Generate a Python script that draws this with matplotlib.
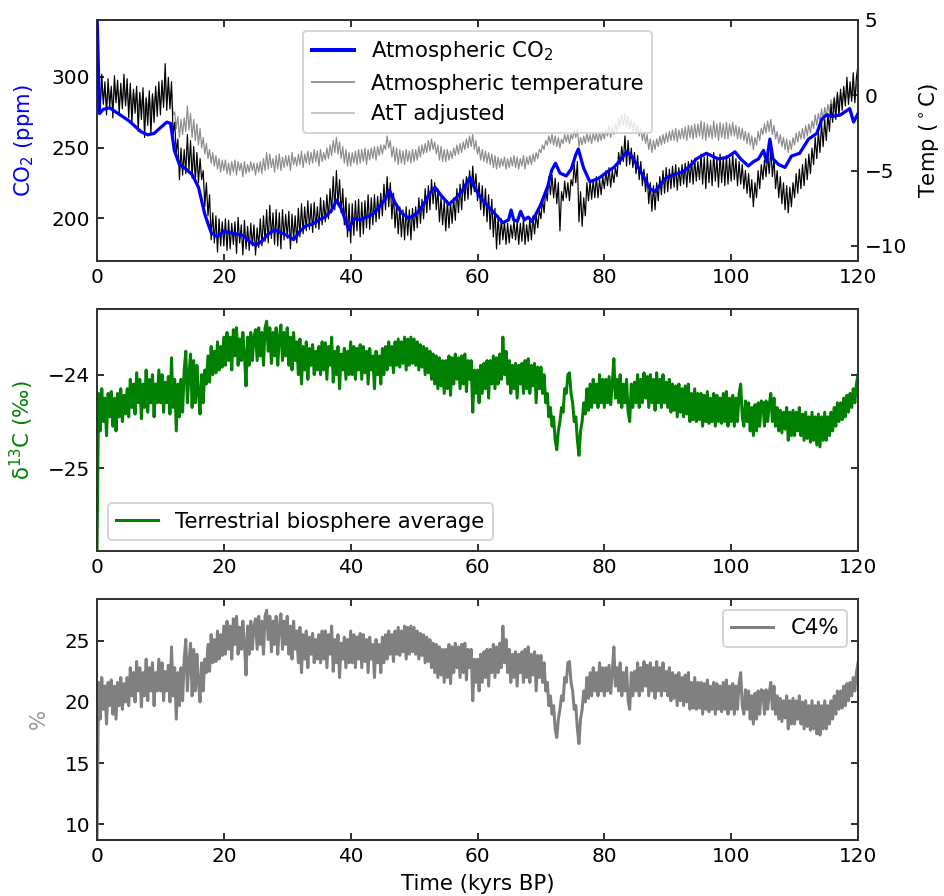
import numpy as np
import matplotlib
matplotlib.use("Agg")
import matplotlib.pyplot as plt
from matplotlib.lines import Line2D

plt.rcParams['font.family'] = ['DejaVu Sans']
plt.rcParams['font.size'] = 10

# ---------------- data ----------------
# Atmospheric CO2 (ppm), irregular sample times (kyrs BP)
co2_time = [0, 0.4, 1, 2, 3, 4, 5, 6, 7, 8, 9, 10, 11, 11.6, 12.2, 13, 14, 15, 16, 17,
            18, 19, 20, 21, 22, 23, 24, 25, 26, 27, 28, 29, 30, 31, 32, 33, 34, 35, 36, 37,
            37.8, 38.6, 39.7, 40.5, 41.5, 42.5, 43.5, 44.5, 45.5, 46.1, 47, 48, 49.2, 50.5,
            51.5, 52.5, 53.3, 54.3, 55.5, 56.5, 57.5, 58.8, 59.5, 60.6, 62, 63, 64, 64.9,
            65.3, 65.7, 66.3, 66.8, 67.4, 68, 68.6, 69.9, 71.1, 71.7, 72.3, 73, 74, 74.8,
            75.5, 75.9, 76.7, 77.7, 79, 80.5, 81.5, 82.5, 83.5, 84.3, 85.1, 86, 87.2, 88,
            89, 89.8, 91, 92.4, 93.5, 94.5, 96.1, 97, 98, 99.3, 100.6, 101.5, 102.7, 103.5,
            104.3, 105.1, 105.6, 106.1, 106.6, 107.5, 108.5, 109.5, 110.8, 111.5, 112.2,
            113.5, 114.3, 115, 116, 117.2, 118.7, 119.3, 120]
co2_ppm = [345, 274, 277, 278, 275, 272, 269, 265, 261, 259, 260, 264, 268, 267, 248, 238,
           235, 231, 222, 203, 190, 187, 191, 190, 189, 188, 184, 181, 184, 189, 192, 190,
           188, 185, 191, 195, 196, 199, 201, 206, 213, 206, 192, 200, 199, 201, 203, 208,
           214, 220, 211, 204, 200, 204, 210, 218, 222, 216, 210, 214, 219, 229, 222, 214,
           207, 202, 197, 199, 206, 199, 198, 205, 199, 201, 198, 209, 223, 234, 239, 232,
           230, 235, 245, 249, 236, 226, 228, 233, 236, 241, 247, 244, 238, 231, 221, 219,
           225, 229, 231, 233, 237, 242, 246, 244, 242, 243, 247, 242, 237, 240, 242, 248,
           240, 256, 242, 238, 236, 244, 246, 251, 256, 260, 270, 273, 272, 273, 277.5,
           268, 274]

# Atmospheric temperature (deg C), every 0.25 kyr from 0 to 120
temp = [
    -1.8, 1.2, -1.0, 1.4, -0.6, 0.9, -1.3, 1.1, -0.8, 0.6, -1.5, 1.3, -0.5, 1.0, -1.2, 0.8, -0.9, 1.4, -0.7, 1.1,
    -1.5, 0.8, -1.9, 0.4, -1.2, 0.6, -2.4, 0.2, -1.6, 0.5, -2.8, -0.2, -2.0, 0.3, -2.6, 0.1, -1.8, 0.6, -1.4, 0.9,
    -1.3, 1.0, -0.8, 2.1, -1.0, 1.2, -0.9, 0.9, -2.6, -1.8, -3.8, -2.9, -5.6, -3.5, -5.3, -3.6, -5.2, -2.6, -5.0, -3.0,
    -5.5, -3.4, -5.7, -3.8, -5.8, -4.2, -5.6, -5.0, -7.4, -5.8, -8.0, -6.6, -9.6, -7.8, -9.8, -8.0, -10.4, -8.2, -10.0, -8.4,
    -10.0, -8.2, -10.3, -8.3, -10.2, -8.5, -9.9, -8.4, -10.5, -8.1, -9.8, -8.6, -10.6, -8.3, -10.2, -8.7, -10.3, -8.5, -10.0, -8.6,
    -10.6, -8.8, -10.1, -8.2, -10.0, -8.0, -9.7, -7.6, -9.8, -7.3, -9.5, -7.8, -9.9, -7.6, -10.0, -7.8, -10.2, -7.6, -9.6, -7.9,
    -9.5, -7.7, -10.2, -7.9, -9.6, -8.0, -9.8, -7.5, -9.4, -7.2, -9.2, -7.4, -9.0, -7.0, -8.9, -7.2, -9.1, -7.1, -8.8, -7.4,
    -8.9, -6.8, -8.6, -7.0, -8.4, -6.6, -8.2, -6.2, -7.8, -5.4, -7.6, -5.0, -7.3, -5.6, -7.8, -6.2, -8.6, -6.8, -9.4, -7.2,
    -9.8, -7.2, -9.3, -7.0, -9.0, -6.9, -9.4, -7.1, -9.2, -7.0, -8.8, -6.6, -8.9, -6.8, -8.6, -6.6, -8.4, -6.7, -8.2, -6.5,
    -8.0, -5.9, -7.6, -5.4, -7.4, -5.8, -8.2, -6.5, -8.8, -7.2, -9.2, -7.4, -9.4, -7.6, -9.6, -7.4, -9.3, -7.6, -9.6, -7.5,
    -9.0, -7.4, -8.8, -6.8, -8.5, -6.9, -8.2, -6.2, -7.8, -6.0, -7.6, -5.6, -7.2, -5.8, -7.6, -6.2, -8.4, -6.8, -8.6, -7.0,
    -9.0, -7.0, -8.8, -7.1, -8.5, -6.8, -8.3, -6.2, -7.8, -5.9, -7.6, -5.6, -7.0, -5.4, -6.9, -5.0, -6.6, -4.7, -6.4, -5.2,
    -7.0, -5.8, -7.6, -6.0, -8.0, -6.2, -8.4, -6.6, -8.9, -6.9, -9.4, -7.5, -10.2, -8.0, -9.9, -8.2, -9.6, -8.4, -9.9, -8.5,
    -9.8, -8.6, -9.5, -8.3, -9.6, -8.4, -9.9, -8.5, -9.7, -8.2, -9.9, -8.6, -9.7, -8.2, -9.6, -8.0, -9.2, -7.9, -8.8, -7.6,
    -8.2, -6.9, -7.8, -6.3, -7.0, -5.4, -6.6, -5.3, -6.8, -5.5, -7.2, -5.8, -9.0, -6.4, -7.0, -5.7, -6.8, -5.8, -7.0, -5.6,
    -6.0, -4.6, -5.8, -4.4, -8.4, -6.4, -8.7, -6.8, -8.0, -5.8, -7.0, -5.7, -6.9, -5.6, -6.8, -5.4, -6.8, -5.6, -6.6, -5.4,
    -6.2, -5.0, -6.0, -4.8, -6.1, -5.0, -5.8, -4.8, -5.4, -3.8, -4.6, -3.4, -4.4, -2.7, -4.7, -3.0, -4.6, -3.5, -4.8, -3.8,
    -5.2, -4.0, -5.6, -4.4, -6.0, -4.9, -6.4, -5.2, -7.2, -5.8, -7.7, -6.0, -7.6, -5.8, -7.0, -5.4, -6.6, -5.0, -6.5, -4.8,
    -6.4, -4.9, -6.2, -4.7, -6.1, -4.6, -6.3, -4.8, -6.0, -4.6, -5.9, -4.5, -6.1, -4.4, -5.8, -4.3, -5.9, -4.2, -5.7, -4.4,
    -5.6, -3.9, -5.9, -4.1, -6.2, -4.0, -5.8, -4.3, -6.0, -3.8, -5.7, -4.2, -6.1, -3.9, -5.8, -4.1, -6.0, -4.0, -5.9, -4.2,
    -5.7, -3.9, -5.6, -4.2, -6.0, -4.4, -5.9, -4.6, -6.2, -5.0, -6.5, -5.2, -6.8, -5.6, -7.4, -5.8, -6.8, -5.0, -6.2, -4.6,
    -5.6, -4.3, -5.4, -3.9, -5.2, -3.5, -5.4, -4.2, -6.2, -5.0, -6.8, -5.4, -7.2, -5.8, -7.6, -6.0, -7.8, -6.1, -7.4, -5.8,
    -6.8, -5.2, -6.5, -4.9, -6.2, -4.6, -6.0, -4.2, -5.6, -3.9, -5.2, -3.5, -4.6, -2.8, -4.2, -2.4, -3.8, -1.8, -3.4, -1.6,
    -3.0, -1.2, -2.4, -0.6, -1.8, -0.2, -1.6, 0.2, -1.4, 0.4, -1.0, 0.6, -0.7, 1.2, -0.6, 0.9, -0.4, 1.5, -0.5, 1.2,
    2.0]

# AtT adjusted (deg C), every 0.25 kyr from 0 to 120
temp_adj = [
    -0.9, 0.6, -0.5, 0.7, -0.3, 0.5, -0.7, 0.6, -0.4, 0.3, -0.8, 0.6, -0.3, 0.5, -0.6, 0.4, -0.5, 0.7, -0.4, 0.5,
    -0.8, 0.4, -1.0, 0.2, -0.6, 0.3, -1.2, 0.1, -0.8, 0.2, -1.4, -0.1, -1.0, 0.1, -1.3, 0.0, -0.9, 0.3, -0.7, 0.4,
    -0.7, 0.5, -0.4, 1.0, -0.5, 0.6, -0.5, 0.4, -1.3, -1.1, -2.2, -1.4, -2.8, -1.6, -2.6, -1.5, -2.4, -0.7, -2.3, -1.2,
    -2.8, -1.6, -3.0, -1.9, -3.3, -2.2, -3.5, -2.8, -3.9, -3.2, -4.2, -3.6, -4.5, -3.8, -4.7, -4.0, -4.9, -4.2, -5.1, -4.3,
    -5.0, -4.3, -5.2, -4.5, -5.3, -4.4, -5.1, -4.3, -5.3, -4.4, -5.0, -4.5, -5.4, -4.4, -5.2, -4.6, -5.1, -4.4, -5.0, -4.5,
    -5.3, -4.5, -5.1, -4.4, -5.2, -4.2, -5.0, -3.8, -4.9, -3.9, -4.8, -4.2, -5.1, -4.0, -4.9, -3.9, -5.0, -4.1, -4.8, -4.0,
    -4.7, -4.0, -5.0, -3.8, -4.6, -4.1, -4.7, -3.9, -4.6, -3.7, -4.8, -3.9, -4.5, -3.7, -4.6, -3.8, -4.5, -3.6, -4.4, -3.7,
    -4.7, -3.6, -4.4, -3.8, -4.3, -3.5, -4.2, -3.3, -4.0, -3.0, -3.8, -2.8, -3.9, -3.1, -4.2, -3.4, -4.5, -3.6, -4.7, -3.8,
    -4.7, -3.8, -4.5, -3.7, -4.6, -3.6, -4.5, -3.6, -4.4, -3.5, -4.6, -3.6, -4.3, -3.5, -4.2, -3.4, -4.3, -3.4, -4.0, -3.3,
    -3.9, -3.3, -3.6, -2.7, -3.5, -3.0, -4.1, -3.4, -4.4, -3.5, -4.6, -3.6, -4.5, -3.7, -4.6, -3.6, -4.4, -3.7, -4.5, -3.6,
    -4.4, -3.6, -4.3, -3.4, -4.1, -3.3, -3.9, -3.2, -3.8, -3.0, -3.7, -2.9, -3.6, -3.1, -3.9, -3.3, -4.3, -3.4, -4.4, -3.6,
    -4.4, -3.6, -4.3, -3.7, -4.2, -3.5, -4.0, -3.3, -3.9, -3.2, -3.8, -3.1, -3.6, -2.9, -3.5, -2.7, -3.4, -2.6, -3.6, -3.0,
    -3.9, -3.4, -4.3, -3.6, -4.4, -3.7, -4.5, -3.8, -4.6, -3.9, -4.8, -4.0, -4.9, -4.1, -4.8, -4.2, -4.7, -4.1, -4.9, -4.2,
    -4.8, -4.1, -4.7, -4.0, -4.8, -4.1, -4.9, -4.2, -4.7, -4.0, -4.9, -4.1, -4.6, -4.0, -4.6, -3.9, -4.4, -3.8, -4.2, -3.6,
    -3.8, -3.3, -3.6, -3.0, -3.3, -2.7, -3.2, -2.6, -3.3, -2.7, -3.4, -2.8, -3.5, -2.9, -3.2, -2.6, -3.1, -2.6, -3.2, -2.6,
    -2.9, -2.3, -2.8, -2.2, -3.4, -2.8, -3.3, -2.7, -3.2, -2.5, -3.1, -2.6, -3.2, -2.5, -3.0, -2.5, -3.1, -2.5, -3.0, -2.4,
    -2.9, -2.3, -2.7, -2.0, -2.8, -2.1, -2.6, -1.9, -2.4, -1.5, -2.1, -1.3, -2.0, -1.2, -2.1, -1.4, -2.2, -1.6, -2.4, -1.8,
    -2.5, -2.0, -2.7, -2.2, -3.0, -2.4, -3.2, -2.6, -3.6, -2.9, -3.8, -3.0, -3.6, -2.9, -3.4, -2.7, -3.3, -2.6, -3.2, -2.5,
    -3.1, -2.4, -3.0, -2.3, -3.0, -2.2, -3.1, -2.3, -2.9, -2.2, -2.9, -2.1, -3.0, -2.0, -2.8, -2.0, -2.9, -1.9, -2.8, -1.9,
    -2.7, -1.7, -2.9, -1.8, -3.0, -1.9, -2.8, -2.0, -2.9, -1.7, -2.8, -1.9, -3.0, -1.8, -2.8, -1.9, -2.9, -1.8, -2.9, -1.9,
    -2.7, -1.8, -2.7, -2.0, -2.9, -2.1, -2.9, -2.2, -3.0, -2.4, -3.2, -2.5, -3.3, -2.7, -3.6, -2.8, -3.3, -2.4, -3.0, -2.2,
    -2.6, -1.9, -2.5, -1.7, -2.4, -1.6, -2.6, -2.0, -2.9, -2.4, -3.2, -2.6, -3.4, -2.8, -3.6, -2.9, -3.8, -3.0, -3.6, -2.8,
    -3.3, -2.5, -3.1, -2.4, -2.9, -2.2, -2.9, -2.0, -2.7, -1.9, -2.5, -1.7, -2.2, -1.3, -2.0, -1.2, -1.8, -0.9, -1.7, -0.8,
    -1.4, -0.6, -1.2, -0.3, -0.9, -0.1, -0.8, 0.1, -0.7, 0.2, -0.5, 0.3, -0.4, 0.6, -0.3, 0.4, -0.2, 0.7, -0.3, 0.6,
    1.0]

# Terrestrial biosphere average d13C (permil), every 0.25 kyr
d13c = [
    -25.88, -24.2, -24.6, -24.15, -24.5, -24.25, -24.65, -24.2, -24.45, -24.18, -24.55, -24.25, -24.6, -24.2, -24.45, -24.15, -24.5, -24.22, -24.42, -24.15,
    -24.45, -24.05, -24.35, -24.1, -24.42, -23.98, -24.3, -24.05, -24.47, -24.1, -24.35, -23.95, -24.4, -24.05, -24.3, -24.0, -24.45, -24.1, -24.3, -23.95,
    -24.3, -24.0, -24.4, -24.08, -24.3, -24.02, -24.42, -23.82, -24.35, -24.05, -24.6, -24.1, -24.45, -24.05, -24.4, -23.95, -23.75, -24.3, -24.0, -23.78,
    -24.35, -23.85, -24.3, -23.9, -24.2, -24.42, -24.0, -24.3, -23.95, -24.1, -23.8, -24.08, -23.7, -24.0, -23.75, -23.98, -23.65, -23.95, -23.7, -23.92,
    -23.6, -23.9, -23.55, -23.85, -23.6, -23.95, -23.52, -23.8, -23.5, -23.9, -23.62, -23.85, -23.55, -23.8, -24.12, -23.6, -23.9, -23.55, -23.85, -23.6,
    -23.52, -23.85, -23.5, -23.8, -23.55, -23.9, -23.5, -23.43, -23.75, -23.5, -23.88, -23.55, -23.8, -23.5, -23.9, -23.6, -23.47, -23.85, -23.55, -23.8,
    -23.5, -23.9, -23.6, -23.95, -23.55, -23.85, -23.65, -24.0, -23.62, -24.1, -23.7, -23.95, -23.65, -24.05, -23.72, -23.9, -23.68, -24.0, -23.75, -23.95,
    -23.7, -24.0, -23.65, -23.95, -23.66, -24.05, -23.7, -23.9, -23.6, -24.08, -23.75, -24.0, -23.7, -24.15, -23.78, -23.95, -23.72, -24.05, -23.75, -24.0,
    -23.65, -24.0, -23.7, -24.05, -23.72, -23.95, -23.68, -24.05, -23.7, -23.98, -23.75, -24.1, -23.72, -23.95, -23.8, -24.15, -23.75, -24.0, -23.8, -24.1,
    -23.72, -24.0, -23.7, -23.95, -23.65, -23.9, -23.7, -23.98, -23.65, -23.9, -23.62, -23.92, -23.65, -23.88, -23.6, -23.95, -23.62, -23.9, -23.6, -23.88,
    -23.62, -23.9, -23.65, -23.95, -23.68, -23.92, -23.7, -24.0, -23.72, -23.98, -23.75, -24.05, -23.78, -24.1, -23.8, -24.15, -23.82, -24.12, -23.85, -24.2,
    -23.85, -24.15, -23.8, -24.22, -23.82, -24.1, -23.78, -24.05, -23.82, -24.15, -23.8, -24.1, -23.78, -24.18, -23.85, -24.05, -23.85, -24.4, -23.95, -24.2,
    -23.95, -24.3, -23.9, -24.2, -23.88, -24.15, -23.85, -24.25, -23.85, -24.1, -23.8, -24.15, -23.82, -24.1, -23.78, -24.05, -23.6, -24.0, -23.75, -24.1,
    -23.85, -24.2, -23.9, -24.15, -23.88, -24.25, -23.9, -24.1, -23.88, -24.2, -23.85, -24.15, -23.83, -24.2, -23.9, -24.12, -23.88, -24.3, -23.92, -24.15,
    -23.92, -24.2, -24.0, -24.3, -24.2, -24.45, -24.35, -24.55, -24.45, -24.7, -24.8, -24.6, -24.5, -24.35, -24.4, -24.15, -24.2, -24.0, -23.98, -24.2,
    -24.3, -24.5, -24.45, -24.7, -24.86, -24.6, -24.5, -24.3, -24.42, -24.15, -24.38, -24.1, -24.35, -24.05, -24.3, -24.1, -24.35, -24.0, -24.3, -24.05,
    -24.35, -24.05, -24.3, -24.02, -24.32, -24.1, -23.83, -24.25, -24.05, -24.3, -24.0, -24.35, -24.1, -24.3, -24.05, -24.4, -24.5, -24.1, -24.35, -24.08,
    -24.3, -24.0, -24.35, -24.05, -24.3, -23.98, -24.25, -24.02, -24.35, -24.0, -24.3, -24.05, -24.38, -23.98, -24.3, -24.05, -24.35, -24.0, -24.3, -24.08,
    -24.35, -24.05, -24.4, -24.1, -24.38, -24.12, -24.45, -24.1, -24.4, -24.15, -24.45, -24.12, -24.42, -24.1, -24.5, -24.2, -24.48, -24.15, -24.5, -24.2,
    -24.48, -24.2, -24.55, -24.22, -24.5, -24.18, -24.52, -24.25, -24.5, -24.2, -24.55, -24.22, -24.5, -24.25, -24.52, -24.2, -24.5, -24.18, -24.55, -24.25,
    -24.5, -24.22, -24.55, -24.25, -24.5, -24.2, -24.1, -24.45, -24.55, -24.28, -24.5, -24.3, -24.6, -24.35, -24.65, -24.32, -24.6, -24.3, -24.55, -24.28,
    -24.3, -24.55, -24.28, -24.5, -24.32, -24.2, -24.5, -24.25, -24.55, -24.35, -24.6, -24.38, -24.62, -24.4, -24.58, -24.35, -24.7, -24.4, -24.65, -24.38,
    -24.65, -24.4, -24.6, -24.35, -24.65, -24.42, -24.7, -24.4, -24.68, -24.45, -24.72, -24.4, -24.7, -24.45, -24.75, -24.42, -24.77, -24.45, -24.7, -24.4,
    -24.7, -24.45, -24.65, -24.4, -24.6, -24.35, -24.55, -24.3, -24.5, -24.3, -24.48, -24.25, -24.45, -24.22, -24.4, -24.2, -24.35, -24.15, -24.3, -24.1,
    -24.0]

# C4 fraction (%), every 0.25 kyr
c4 = [
    8.8, 21.6, 18.6, 22.0, 19.4, 21.3, 18.2, 21.6, 19.7, 21.8, 19.0, 21.3, 18.6, 21.6, 19.7, 22.0, 19.4, 21.5, 20.0, 22.0,
    19.7, 22.8, 20.5, 22.4, 20.0, 23.3, 20.9, 22.8, 19.6, 22.4, 20.5, 23.5, 20.1, 22.8, 20.9, 23.2, 19.7, 22.4, 20.9, 23.5,
    20.9, 23.2, 20.1, 22.5, 20.9, 23.0, 20.0, 24.5, 20.5, 22.8, 18.6, 22.4, 19.7, 22.8, 20.1, 23.5, 25.1, 20.9, 23.2, 24.8,
    20.5, 24.3, 20.9, 23.9, 21.6, 20.0, 23.2, 20.9, 23.5, 22.4, 24.7, 22.5, 25.5, 23.2, 25.1, 23.3, 25.8, 23.5, 25.5, 23.8,
    26.2, 23.9, 26.6, 24.3, 26.2, 23.5, 26.8, 24.7, 27.0, 23.9, 26.1, 24.3, 26.6, 24.7, 22.2, 26.2, 23.9, 26.6, 24.3, 26.2,
    26.8, 24.3, 27.0, 24.7, 26.6, 23.9, 27.0, 27.5, 25.1, 27.0, 24.1, 26.6, 24.7, 27.0, 23.9, 26.2, 27.2, 24.3, 26.6, 24.7,
    27.0, 23.9, 26.2, 23.5, 26.6, 24.3, 25.8, 23.2, 26.1, 22.4, 25.5, 23.5, 25.8, 22.8, 25.3, 23.9, 25.6, 23.2, 25.1, 23.5,
    25.5, 23.2, 25.8, 23.5, 25.8, 22.8, 25.5, 23.9, 26.2, 22.5, 25.1, 23.2, 25.5, 22.0, 24.8, 23.5, 25.3, 22.8, 25.1, 23.2,
    25.8, 23.2, 25.5, 22.8, 25.3, 23.5, 25.6, 22.8, 25.5, 23.3, 25.1, 22.4, 25.3, 23.5, 24.7, 22.0, 25.1, 23.2, 24.7, 22.4,
    25.3, 23.2, 25.5, 23.5, 25.8, 23.9, 25.5, 23.3, 25.8, 23.9, 26.1, 23.8, 25.8, 24.1, 26.2, 23.5, 26.1, 23.9, 26.2, 24.1,
    26.1, 23.9, 25.8, 23.5, 25.6, 23.8, 25.5, 23.2, 25.3, 23.3, 25.1, 22.8, 24.8, 22.4, 24.7, 22.0, 24.5, 22.2, 24.3, 21.6,
    24.3, 22.0, 24.7, 21.5, 24.5, 22.4, 24.8, 22.8, 24.5, 22.0, 24.7, 22.4, 24.8, 21.8, 24.3, 22.8, 24.3, 20.1, 23.5, 21.6,
    23.5, 20.9, 23.9, 21.6, 24.1, 22.0, 24.3, 21.3, 24.3, 22.4, 24.7, 22.0, 24.5, 22.4, 24.8, 22.8, 26.2, 23.2, 25.1, 22.4,
    24.3, 21.6, 23.9, 22.0, 24.1, 21.3, 23.9, 22.4, 24.1, 21.6, 24.3, 22.0, 24.5, 21.6, 23.9, 22.2, 24.1, 20.9, 23.8, 22.0,
    23.8, 21.6, 23.2, 20.9, 21.6, 19.7, 20.5, 19.0, 19.7, 17.8, 17.1, 18.6, 19.4, 20.5, 20.1, 22.0, 21.6, 23.2, 23.3, 21.6,
    20.9, 19.4, 19.7, 17.8, 16.6, 18.6, 19.4, 20.9, 20.0, 22.0, 20.3, 22.4, 20.5, 22.8, 20.9, 22.4, 20.5, 23.2, 20.9, 22.8,
    20.5, 22.8, 20.9, 23.0, 20.7, 22.4, 24.5, 21.3, 22.8, 20.9, 23.2, 20.5, 22.4, 20.9, 22.8, 20.1, 19.4, 22.4, 20.5, 22.5,
    20.9, 23.2, 20.5, 22.8, 20.9, 23.3, 21.3, 23.0, 20.5, 23.2, 20.9, 22.8, 20.3, 23.3, 20.9, 22.8, 20.5, 23.2, 20.9, 22.5,
    20.5, 22.8, 20.1, 22.4, 20.3, 22.2, 19.7, 22.4, 20.1, 22.0, 19.7, 22.2, 20.0, 22.4, 19.4, 21.6, 19.5, 22.0, 19.4, 21.6,
    19.5, 21.6, 19.0, 21.5, 19.4, 21.8, 19.2, 21.3, 19.4, 21.6, 19.0, 21.5, 19.4, 21.3, 19.2, 21.6, 19.4, 21.8, 19.0, 21.3,
    19.4, 21.5, 19.0, 21.3, 19.4, 21.6, 22.4, 19.7, 19.0, 21.0, 19.4, 20.9, 18.6, 20.5, 18.2, 20.7, 18.6, 20.9, 19.0, 21.0,
    20.9, 19.0, 21.0, 19.4, 20.7, 21.6, 19.4, 21.3, 19.0, 20.5, 18.6, 20.3, 18.4, 20.1, 18.7, 20.5, 17.8, 20.1, 18.2, 20.3,
    18.2, 20.1, 18.6, 20.5, 18.2, 20.0, 17.8, 20.1, 18.0, 19.7, 17.7, 20.1, 17.8, 19.7, 17.4, 20.0, 17.3, 19.7, 17.8, 20.1,
    17.8, 19.7, 18.2, 20.1, 18.6, 20.5, 19.0, 20.9, 19.4, 20.9, 19.5, 21.3, 19.7, 21.5, 20.1, 21.6, 20.5, 22.0, 20.9, 22.4,
    23.2]

t_temp = np.linspace(0, 120, len(temp))
t_adj = np.linspace(0, 120, len(temp_adj))
t_d13c = np.linspace(0, 120, len(d13c))
t_c4 = np.linspace(0, 120, len(c4))

x_ticks = [0, 20, 40, 60, 80, 100, 120]
LABEL_FS = 10.6

# ---------------- figure ----------------
fig = plt.figure(figsize=(944 / 144, 896 / 144), dpi=144)
L, W = 97 / 944, 761 / 944
ax1 = fig.add_axes([L, 1 - 261 / 896, W, 241 / 896])
axb = fig.add_axes([L, 1 - 551 / 896, W, 242 / 896])
axc = fig.add_axes([L, 1 - 839.5 / 896, W, 240.5 / 896])

def style(ax, right=True):
    ax.tick_params(direction='in', top=True, right=right, length=3.5, pad=3.5)
    for s in ax.spines.values():
        s.set_linewidth(1.0)
        s.set_color('#333333')
    ax.set_xlim(0, 120)
    ax.set_xticks(x_ticks)

# Panel 1: CO2 and temperature
style(ax1, right=False)
ax1.plot(co2_time, co2_ppm, color='#0000ff', lw=1.6, zorder=3)
ax1.set_ylim(170, 340)
ax1.set_yticks([200, 250, 300])
ax1.set_ylabel('CO$_2$ (ppm)', color='#0000ff', fontsize=LABEL_FS, labelpad=8)

ax1r = ax1.twinx()
ax1r.plot(t_adj, temp_adj, color='#8c8c8c', lw=0.6)
ax1r.plot(t_temp, temp, color='k', lw=0.6)
ax1r.set_ylim(-11, 5)
ax1r.set_yticks([-10, -5, 0, 5])
ax1r.tick_params(direction='in', length=3.5, pad=3.5)
for s in ax1r.spines.values():
    s.set_linewidth(1.0)
    s.set_color('#333333')
ax1r.set_ylabel('Temp ($^\\circ$C)', fontsize=LABEL_FS, labelpad=5)
ax1.set_zorder(ax1r.get_zorder() + 1)
ax1.patch.set_visible(False)

handles = [Line2D([], [], color='#0000ff', lw=2),
           Line2D([], [], color='#9a9a9a', lw=1),
           Line2D([], [], color='#c8c8c8', lw=1)]
labels = ['Atmospheric CO$_2$', 'Atmospheric temperature', 'AtT adjusted']
ax1.legend(handles, labels, loc='upper center', fontsize=LABEL_FS)

# Panel 2: d13C
style(axb)
axb.plot(t_d13c, d13c, color='#008000', lw=1.5, label='Terrestrial biosphere average')
axb.set_ylim(-25.88, -23.3)
axb.set_yticks([-25, -24])
axb.set_ylabel('δ$^{13}$C (‰)', color='#008000', fontsize=LABEL_FS, labelpad=6)
axb.legend(loc='lower left', fontsize=LABEL_FS)

# Panel 3: C4 %
style(axc)
axc.plot(t_c4, c4, color='#808080', lw=1.5, label='C4%')
axc.set_ylim(8.77, 28.41)
axc.set_yticks([10, 15, 20, 25])
axc.set_ylabel('%', color='#999999', fontsize=LABEL_FS, labelpad=8)
axc.set_xlabel('Time (kyrs BP)', fontsize=LABEL_FS)
axc.legend(loc='upper right', fontsize=LABEL_FS)

fig.savefig('out.png', dpi=144)
